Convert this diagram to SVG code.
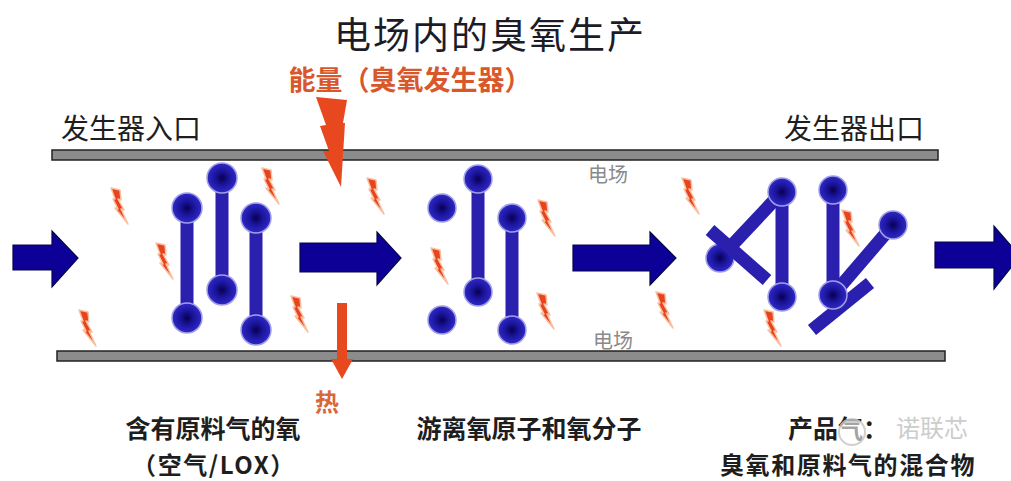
<svg xmlns="http://www.w3.org/2000/svg" xmlns:xlink="http://www.w3.org/1999/xlink" width="1011" height="481" viewBox="0 0 1011 481">
  <style>
    .title { font-family: "Noto Sans CJK SC", sans-serif; font-size: 37px; fill: #1c1c28; letter-spacing: 2px; }
    .energy { font-family: "Noto Sans CJK SC", sans-serif; font-size: 27px; font-weight: bold; fill: #d9582b; }
    .port { font-family: "Noto Sans CJK SC", sans-serif; font-size: 28px; fill: #1e1e1e; }
    .field { font-family: "Noto Sans CJK SC", sans-serif; font-size: 20px; fill: #8a8a8a; }
    .caption { font-family: "Noto Sans CJK SC", sans-serif; font-size: 25px; font-weight: bold; fill: #1e1e1e; }
    .sub { font-size: 24px; letter-spacing: 1.6px; }
    .heat { font-family: "Noto Sans CJK SC", sans-serif; font-size: 24px; font-weight: bold; fill: #d9673a; }
    .mark { font-family: "Noto Sans CJK SC", sans-serif; font-size: 24px; fill: #c4c4c4; }
    .bar { fill: #8c8c8c; stroke: #222; stroke-width: 1.5; }
    .flow { fill: #0c0096; stroke: #06064a; stroke-width: 1.2; }
    .bond { stroke: #2b1fae; stroke-width: 13; stroke-linecap: butt; }
    .atom { fill: url(#atomFill); stroke: #a0a0e6; stroke-width: 1.5; }
    .spark { fill: #e8431c; stroke: #f8c0a0; stroke-width: 1.5; stroke-linejoin: round; }
    .hot { fill: #e8481e; }
  </style>
  <defs>
    <radialGradient id="atomFill" cx="0.5" cy="0.5" r="0.5">
      <stop offset="0" stop-color="#080050"/>
      <stop offset="0.45" stop-color="#1a149a"/>
      <stop offset="1" stop-color="#3028c8"/>
    </radialGradient>
    <path id="bolt" d="M0,0 L9,2 L10,12 L7,11 L13,22 L10,21 L17,36 L4,20 L7,21 L2,11 L4,11 Z"/>
  </defs>

  <rect width="1011" height="481" fill="#ffffff"/>

  <!-- headings -->
  <text class="title" x="490" y="49" text-anchor="middle">电场内的臭氧生产</text>
  <text class="energy" x="410" y="90" text-anchor="middle">能量（臭氧发生器）</text>
  <text class="port" x="61" y="139">发生器入口</text>
  <text class="port" x="784" y="139">发生器出口</text>

  <!-- electrode plates -->
  <g id="plates">
    <rect class="bar" x="52" y="150" width="886" height="10"/>
    <rect class="bar" x="57" y="351" width="888" height="10"/>
    <text class="field" x="588" y="182">电场</text>
    <text class="field" x="593" y="348">电场</text>
  </g>

  <!-- energy input and heat output -->
  <g id="energy-in">
    <polygon class="hot" points="316,97 347,100 343,123 345,123 341,187 323,151 329,151 320,126 326,125"/>
  </g>
  <g id="heat-out">
    <rect class="hot" x="337" y="303" width="10" height="58"/>
    <polygon class="hot" points="331,359 353,359 342,379"/>
    <text class="heat" x="327" y="411" text-anchor="middle">热</text>
  </g>

  <!-- gas flow arrows -->
  <g id="connectors">
    <polygon class="flow" points="13,245 52,245 52,231 78,258 52,287 52,270 13,270"/>
    <polygon class="flow" points="300,243 377,243 377,232 401,258 377,285 377,272 300,272"/>
    <polygon class="flow" points="573,245 650,245 650,232 676,258 650,285 650,271 573,271"/>
    <polygon class="flow" points="935,242 994,242 994,226 1020,256 994,289 994,268 935,268"/>
  </g>

  <!-- discharge sparks -->
  <g id="sparks">
    <use href="#bolt" class="spark" x="111" y="188"/>
    <use href="#bolt" class="spark" x="156" y="243"/>
    <use href="#bolt" class="spark" x="79" y="310"/>
    <use href="#bolt" class="spark" x="262" y="168"/>
    <use href="#bolt" class="spark" x="291" y="296"/>
    <use href="#bolt" class="spark" x="367" y="178"/>
    <use href="#bolt" class="spark" x="431" y="248"/>
    <use href="#bolt" class="spark" x="538" y="200"/>
    <use href="#bolt" class="spark" x="537" y="293"/>
    <use href="#bolt" class="spark" x="682" y="178"/>
    <use href="#bolt" class="spark" x="656" y="292"/>
    <use href="#bolt" class="spark" x="842" y="210"/>
    <use href="#bolt" class="spark" x="764" y="310"/>
  </g>

  <!-- feed-gas oxygen molecules -->
  <g id="feed-oxygen">
    <line class="bond" x1="187" y1="208" x2="187" y2="318"/>
    <line class="bond" x1="222" y1="178" x2="222" y2="290"/>
    <line class="bond" x1="256" y1="218" x2="256" y2="330"/>
    <circle class="atom" cx="187" cy="208" r="15"/>
    <circle class="atom" cx="187" cy="318" r="15"/>
    <circle class="atom" cx="222" cy="178" r="15"/>
    <circle class="atom" cx="222" cy="290" r="15"/>
    <circle class="atom" cx="256" cy="218" r="15"/>
    <circle class="atom" cx="256" cy="330" r="15"/>
  </g>

  <!-- free atoms and molecules -->
  <g id="split-oxygen">
    <line class="bond" x1="478" y1="179" x2="478" y2="292"/>
    <line class="bond" x1="512" y1="218" x2="512" y2="330"/>
    <circle class="atom" cx="442" cy="208" r="14"/>
    <circle class="atom" cx="442" cy="320" r="14"/>
    <circle class="atom" cx="478" cy="179" r="14"/>
    <circle class="atom" cx="478" cy="292" r="14"/>
    <circle class="atom" cx="512" cy="218" r="14"/>
    <circle class="atom" cx="512" cy="330" r="14"/>
  </g>

  <!-- ozone and feed gas mixture -->
  <g id="ozone-mix">
    <line class="bond" x1="812" y1="330" x2="870" y2="283"/>
    <line class="bond" x1="720" y1="258" x2="782" y2="192"/>
    <line class="bond" x1="782" y1="192" x2="782" y2="297"/>
    <line class="bond" x1="833" y1="190" x2="833" y2="295"/>
    <line class="bond" x1="833" y1="295" x2="893" y2="225"/>
    <circle class="atom" cx="720" cy="258" r="14"/>
    <circle class="atom" cx="782" cy="192" r="14"/>
    <circle class="atom" cx="782" cy="297" r="14"/>
    <circle class="atom" cx="833" cy="190" r="14"/>
    <circle class="atom" cx="833" cy="295" r="14"/>
    <circle class="atom" cx="893" cy="225" r="14"/>
    <line class="bond" x1="710" y1="230" x2="767" y2="280"/>
  </g>

  <!-- stage captions -->
  <g id="captions">
    <text class="caption" x="213" y="438" text-anchor="middle">含有原料气的氧</text>
    <text class="caption sub" x="214" y="474" text-anchor="middle">（空气/LOX）</text>
    <text class="caption" x="529" y="438" text-anchor="middle">游离氧原子和氧分子</text>
    <text class="caption" x="838" y="438" text-anchor="middle" font-size="23">产品气：</text>
    <text class="caption sub" x="848" y="474" text-anchor="middle">臭氧和原料气的混合物</text>
  </g>

  <!-- publisher mark -->
  <g id="mark" opacity="0.85">
    <circle cx="852" cy="432" r="13" fill="#ffffff" fill-opacity="0.7" stroke="#c8c8c8" stroke-width="2"/>
    <text class="mark" x="896" y="437">诺联芯</text>
  </g>
</svg>
